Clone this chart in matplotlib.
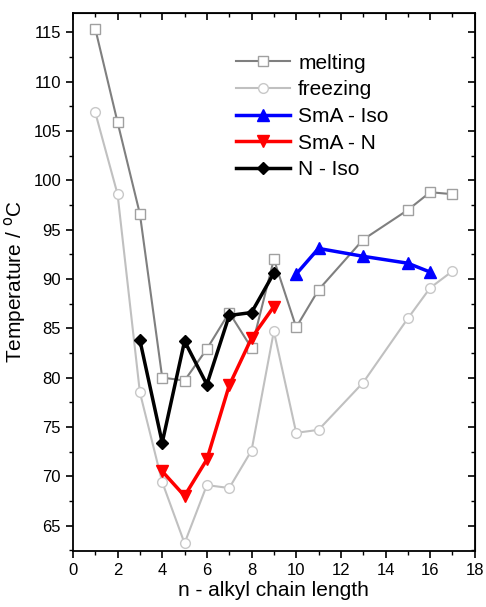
import numpy as np
import matplotlib
matplotlib.use("Agg")
import matplotlib.pyplot as plt
from matplotlib.ticker import MultipleLocator

plt.rcParams['font.family'] = ['Liberation Sans', 'DejaVu Sans']

# data
melt_x = [1, 2, 3, 4, 5, 6, 7, 8, 9, 10, 11, 13, 15, 16, 17]
melt_y = [115.4, 105.9, 96.6, 80.0, 79.7, 82.9, 86.6, 83.0, 92.0, 85.1, 88.9, 94.0, 97.0, 98.8, 98.6]

freeze_x = [1, 2, 3, 4, 5, 6, 7, 8, 9, 10, 11, 13, 15, 16, 17]
freeze_y = [106.9, 98.6, 78.5, 69.4, 63.2, 69.1, 68.8, 72.6, 84.7, 74.4, 74.7, 79.5, 86.0, 89.1, 90.8]

smai_x = [10, 11, 13, 15, 16]
smai_y = [90.5, 93.1, 92.3, 91.6, 90.7]

taman_x = [4, 5, 6, 7, 8, 9]
taman_y = [70.5, 68.0, 71.7, 79.2, 84.0, 87.2]

niso_x = [3, 4, 5, 6, 7, 8, 9]
niso_y = [83.8, 73.4, 83.7, 79.3, 86.3, 86.6, 90.6]

fig = plt.figure(figsize=(4.86, 6.07), dpi=100)
ax = fig.add_axes([0.150, 0.092, 0.827, 0.887])

ax.plot(melt_x, melt_y, color='#7f7f7f', lw=1.5, marker='s', ms=6.5,
        mfc='white', mec='#a0a0a0', mew=1.0, label='melting')
ax.plot(freeze_x, freeze_y, color='#c0c0c0', lw=1.5, marker='o', ms=7,
        mfc='white', mec='#c8c8c8', mew=1.0, label='freezing')
ax.plot(smai_x, smai_y, color='#0000ff', lw=2.5, marker='^', ms=8,
        label='SmA - Iso')
ax.plot(taman_x, taman_y, color='#ff0000', lw=2.5, marker='v', ms=8,
        label='SmA - N')
ax.plot(niso_x, niso_y, color='black', lw=2.5, marker='D', ms=6.5,
        label='N - Iso')

ax.set_xlim(0, 18)
ax.set_ylim(62.4, 117)
ax.xaxis.set_major_locator(MultipleLocator(2))
ax.xaxis.set_minor_locator(MultipleLocator(1))
ax.yaxis.set_major_locator(MultipleLocator(5))
ax.yaxis.set_minor_locator(MultipleLocator(2.5))
ax.tick_params(which='major', direction='out', length=5, width=1.2, labelsize=12)
ax.tick_params(which='minor', direction='out', length=3, width=1.0)
for s in ax.spines.values():
    s.set_linewidth(1.3)

# mirrored ticks on top and right, pointing inward
top = ax.secondary_xaxis('top')
top.xaxis.set_major_locator(MultipleLocator(2))
top.xaxis.set_minor_locator(MultipleLocator(1))
top.tick_params(which='major', direction='in', length=5, width=1.2, labeltop=False)
top.tick_params(which='minor', direction='in', length=3, width=1.0)
right = ax.secondary_yaxis('right')
right.yaxis.set_major_locator(MultipleLocator(5))
right.yaxis.set_minor_locator(MultipleLocator(2.5))
right.tick_params(which='major', direction='in', length=5, width=1.2, labelright=False)
right.tick_params(which='minor', direction='in', length=3, width=1.0)

ax.set_xlabel('n - alkyl chain length', fontsize=15, labelpad=2)
ax.set_ylabel('Temperature / $^{\\mathrm{o}}$C', fontsize=15, labelpad=4)

ax.legend(loc='upper left', bbox_to_anchor=(0.405, 0.924), frameon=False,
          fontsize=15, handlelength=2.6, handletextpad=0.4, labelspacing=0.37,
          borderaxespad=0, borderpad=0)

fig.savefig('out.png', dpi=100)
